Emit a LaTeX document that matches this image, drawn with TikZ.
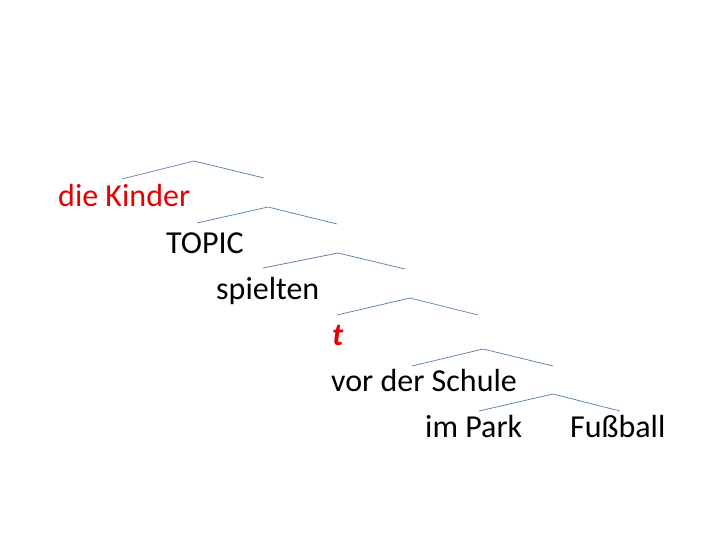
\documentclass[tikz,border=0pt]{standalone}
\usepackage{fontspec}
\setmainfont{Carlito}
\usepackage{tikz}
\definecolor{treeblue}{RGB}{84,122,168}
\definecolor{movered}{RGB}{230,0,0}
\tikzset{
  word/.style={anchor=base west,inner sep=0pt,font=\fontsize{32}{38}\selectfont},
  branch/.style={treeblue,line width=0.7pt}
}
\begin{document}
\begin{tikzpicture}[x=1pt,y=-1pt]
    \useasboundingbox (0,0) rectangle (720,540);
    % words
    \node[word,movered](kinder) at (58,207) {die Kinder};
    \node[word](topic) at (166,253) {TOPIC};
    \node[word](verb) at (216,299) {spielten};
    \node[word,movered](trace) at (332,345) {\textbf{\textit{t}}};
    \node[word](schule) at (331,391) {vor der Schule};
    \node[word](park) at (425,437) {im Park};
    \node[word](ball) at (570,437) {Fußball};
    % branches
    \coordinate (L1) at (122,179); \coordinate (A1) at (194,161); \coordinate (R1) at (264,178);
    \coordinate (L2) at (197,223); \coordinate (A2) at (268,207); \coordinate (R2) at (337,224);
    \coordinate (L3) at (263,268); \coordinate (A3) at (338,253); \coordinate (R3) at (405,269);
    \coordinate (L4) at (337,315); \coordinate (A4) at (410,298); \coordinate (R4) at (478,315);
    \coordinate (L5) at (412,366); \coordinate (A5) at (483,349); \coordinate (R5) at (553,366);
    \coordinate (L6) at (479,411); \coordinate (A6) at (553,394); \coordinate (R6) at (620,411);
    \foreach \i in {1,...,6}
      \draw[branch] (L\i) -- (A\i) -- (R\i);
\end{tikzpicture}
\end{document}
